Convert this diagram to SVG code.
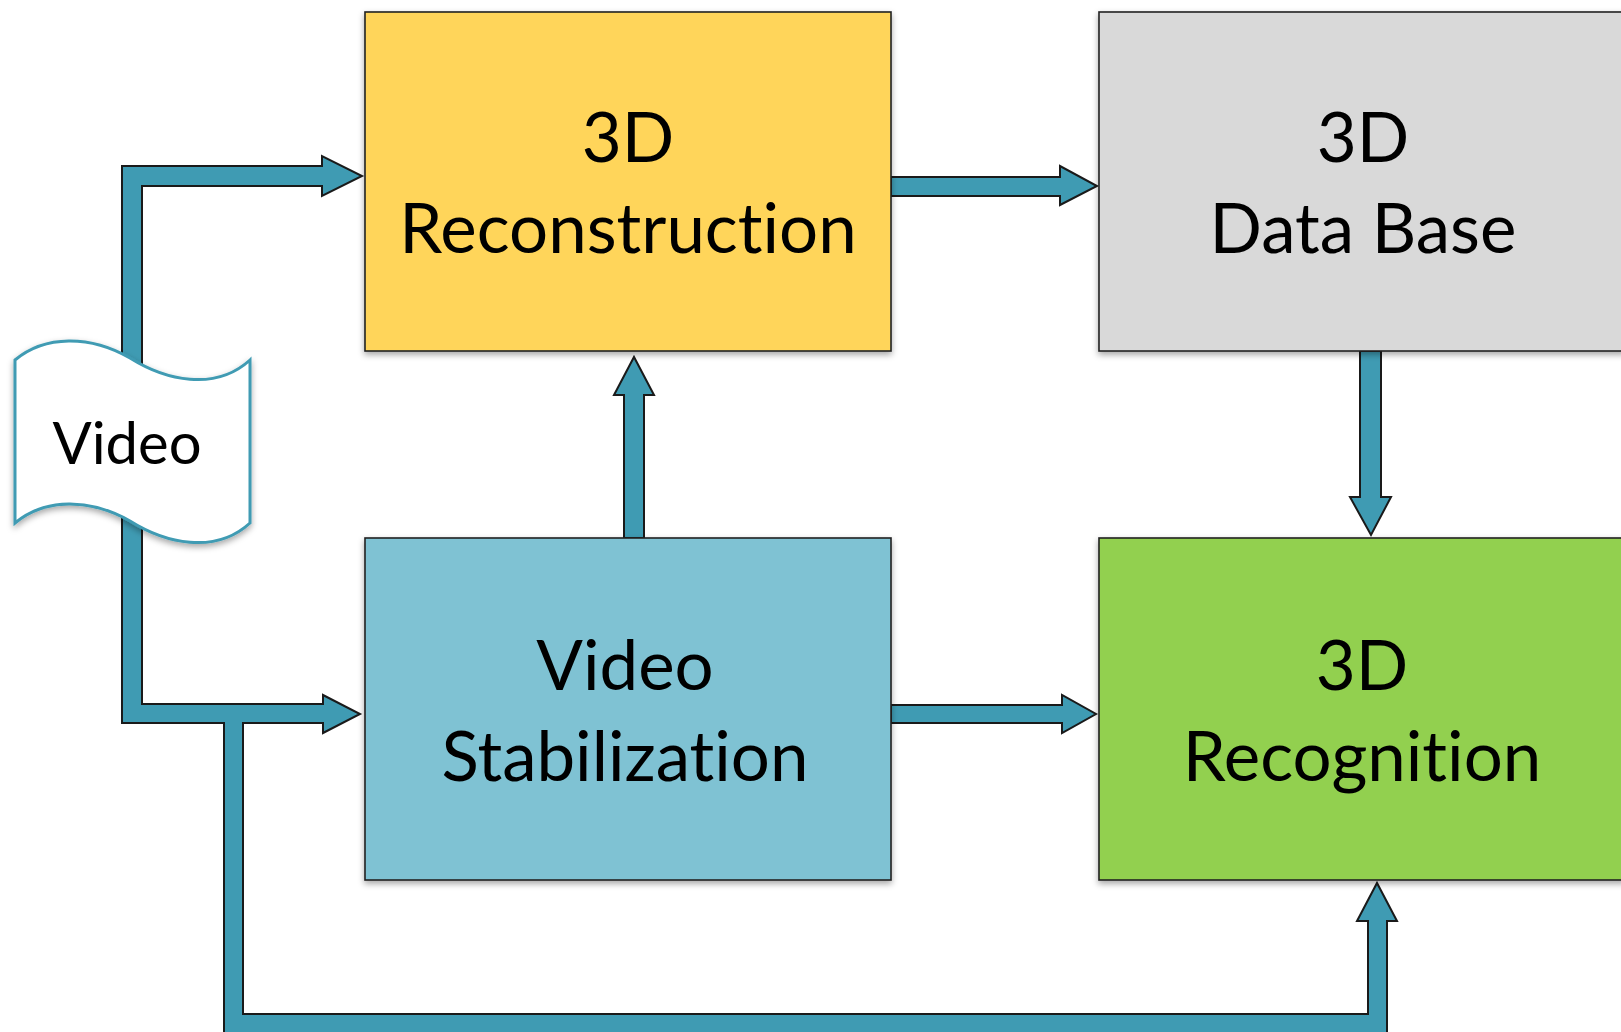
<svg xmlns="http://www.w3.org/2000/svg" width="1621" height="1032" viewBox="0 0 1621 1032">
<defs>
<filter id="sh" x="-10%" y="-10%" width="120%" height="130%">
<feDropShadow dx="0" dy="3" stdDeviation="3" flood-color="#000" flood-opacity="0.35"/>
</filter>
<style>
.box{stroke:#222;stroke-width:1.6;filter:url(#sh)}
.arr{fill:#3f9bb3;stroke:#1a1a1a;stroke-width:2;stroke-linejoin:miter}
.t{font-family:Lato,"Open Sans",sans-serif;font-size:69px;fill:#000;text-anchor:middle;font-variant-ligatures:none;font-feature-settings:"liga" 0,"clig" 0}
.tv{font-family:Lato,"Open Sans",sans-serif;font-size:58px;fill:#000;text-anchor:middle;font-variant-ligatures:none}
</style>
</defs>
<rect width="1621" height="1032" fill="#fff"/>
<g id="connectors">
<polygon class="arr" points="122,166 322,166 322,156 362,176 322,196 322,186 142,186 142,704 323,704 323,695 360,714 323,733 323,723 243,723 243,1014 1368,1014 1368,921 1357,921 1377,883 1397,921 1387,921 1387,1033 224,1033 224,723 122,723"/>
<polygon class="arr" points="891,177 1060,177 1060,166 1097,186 1060,205 1060,196 891,196"/>
<polygon class="arr" points="891,705 1062,705 1062,695 1096,714 1062,733 1062,723 891,723"/>
<polygon class="arr" points="1360,351 1381,351 1381,497 1391,497 1371,535 1350,497 1360,497"/>
<polygon class="arr" points="624,538 644,538 644,395 654,395 634,357 614,395 624,395"/>
</g>
<g id="reconstruction">
<rect class="box" x="365" y="12" width="526" height="339" fill="#ffd55a"/>
<text class="t" x="628" y="162">3D</text>
<text class="t" x="628" y="253">Reconstruction</text>
</g>
<g id="database">
<rect class="box" x="1099" y="12" width="526" height="339" fill="#d9d9d9"/>
<text class="t" x="1363" y="162">3D</text>
<text class="t" x="1363" y="253">Data Base</text>
</g>
<g id="stabilization">
<rect class="box" x="365" y="538" width="526" height="342" fill="#7fc2d3"/>
<text class="t" x="625" y="690">Video</text>
<text class="t" x="625" y="781">Stabilization</text>
</g>
<g id="recognition">
<rect class="box" x="1099" y="538" width="526" height="342" fill="#92d050"/>
<text class="t" x="1362" y="690">3D</text>
<text class="t" x="1362" y="781">Recognition</text>
</g>
<g id="video">
<path d="M15,360 C45,335 90,335 130,358 C165,380 215,392 250,360 L250,523 C215,555 165,543 130,521 C90,498 45,498 15,523 Z" fill="#fff" stroke="#3f9bb3" stroke-width="3" filter="url(#sh)"/>
<text class="tv" x="127" y="464">Video</text>
</g>
</svg>
